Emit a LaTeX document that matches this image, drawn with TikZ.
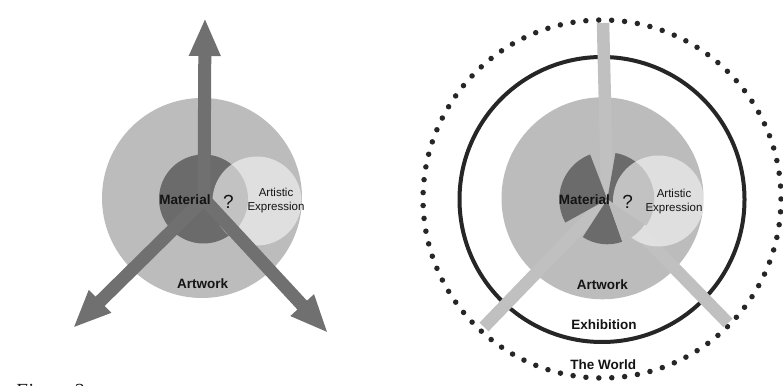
\documentclass[tikz,border=0pt]{standalone}
\usepackage{fontspec}
\setmainfont{Liberation Sans}
\newfontfamily\capfont{Liberation Serif}
\usetikzlibrary{arrows.meta}
\definecolor{artgray}{HTML}{BCBCBC}
\definecolor{matgray}{HTML}{6B6B6B}
\definecolor{arrgray}{HTML}{707070}
\definecolor{expgray}{HTML}{F2F2F2}
\definecolor{spokegray}{HTML}{C0C0C0}
\definecolor{ring}{HTML}{262626}
\definecolor{ink}{HTML}{141414}
\tikzset{
  disc/.style={circle, inner sep=0pt, outer sep=0pt},
  lbl/.style={inner sep=0pt, text=ink, font=\bfseries\fontsize{13.5}{16}\selectfont},
  smalllbl/.style={inner sep=0pt, text=ink, align=center, font=\fontsize{11.5}{14}\selectfont},
  qmark/.style={inner sep=0pt, text=ink, font=\fontsize{19}{20}\selectfont},
  bigarrow/.style={draw=arrgray, line width=13pt, -{Triangle[width=29pt,length=38pt]}},
  spoke/.style={draw=spokegray, line width=12.5pt},
  wedge/.style={fill=matgray}
}

\begin{document}
\begin{tikzpicture}[x=1pt, y=1pt]
  \useasboundingbox[fill=white] (0,0) rectangle (783,385);

  % left: material and artistic expression inside the artwork
  \node[disc, fill=artgray, minimum size=200pt] (artL) at (202,187) {};
  \node[disc, fill=matgray, minimum size=89pt] (matL) at (203.5,186) {};
  \node[disc, fill=expgray, fill opacity=0.65, minimum size=89pt] (expL) at (257,184) {};
  \coordinate (oL) at (204,186);
  \coordinate (tipUp) at (205,367);
  \coordinate (tipLeft) at (73,57);
  \coordinate (tipRight) at (328,52);
  \draw[bigarrow] (oL) -- (tipUp);
  \draw[bigarrow] (oL) -- (tipLeft);
  \draw[bigarrow] (oL) -- (tipRight);
  \node[lbl] (matTxtL) at (185,185) {Material};
  \node[qmark] (qL) at (228.3,183.3) {?};
  \node[smalllbl] (expTxtL) at (276,184.7) {Artistic\\Expression};
  \node[lbl] (artTxtL) at (202.7,101.7) {Artwork};

  % right: the same inside exhibition and world
  \node[disc, minimum size=358pt, draw=ring, line width=5.5pt, line cap=round,
        dash pattern=on 0pt off 12.93pt] (world) at (602,186) {};
  \node[disc, minimum size=285pt, draw=ring, line width=4pt] (exhib) at (602,185.5) {};
  \node[disc, fill=artgray, minimum size=202pt] (artR) at (602.5,186.7) {};
  \coordinate (oR) at (607.3,185.7);
  \coordinate (endUp) at (603,362);
  \coordinate (endLeft) at (484,58);
  \coordinate (endRight) at (728,62);
  \draw[spoke] (oR) -- (endUp);
  \draw[spoke] (oR) -- (endLeft);
  \draw[spoke] (oR) -- (endRight);
  \fill[wedge] (oR) -- ++(111:48pt) arc[start angle=111, end angle=209, radius=48pt] -- cycle;
  \fill[wedge] (oR) -- ++(237:45pt) arc[start angle=237, end angle=289.5, radius=45pt] -- cycle;
  \fill[wedge] (oR) -- ++(-34:47pt) arc[start angle=-34, end angle=80, radius=47pt] -- cycle;
  \node[disc, fill=expgray, fill opacity=0.65, minimum size=91pt] (expR) at (658.5,184) {};
  \fill[artgray] (oR) -- ++(289.5:45pt) arc[start angle=289.5, end angle=326, radius=45pt] -- cycle;
  \node[lbl] (matTxtR) at (584.3,185.7) {Material};
  \node[qmark] (qR) at (627.7,183.3) {?};
  \node[smalllbl] (expTxtR) at (674,183.3) {Artistic\\Expression};
  \node[lbl] (artTxtR) at (602.3,100) {Artwork};
  \node[lbl] (exhTxt) at (604,60) {Exhibition};
  \node[lbl] (worldTxt) at (603.3,20) {The World};

  \node[anchor=base west, inner sep=0pt, text=ink,
        font=\capfont\itshape\fontsize{20}{22}\selectfont] (figcap) at (15,-12) {Figure 2};
\end{tikzpicture}
\end{document}
